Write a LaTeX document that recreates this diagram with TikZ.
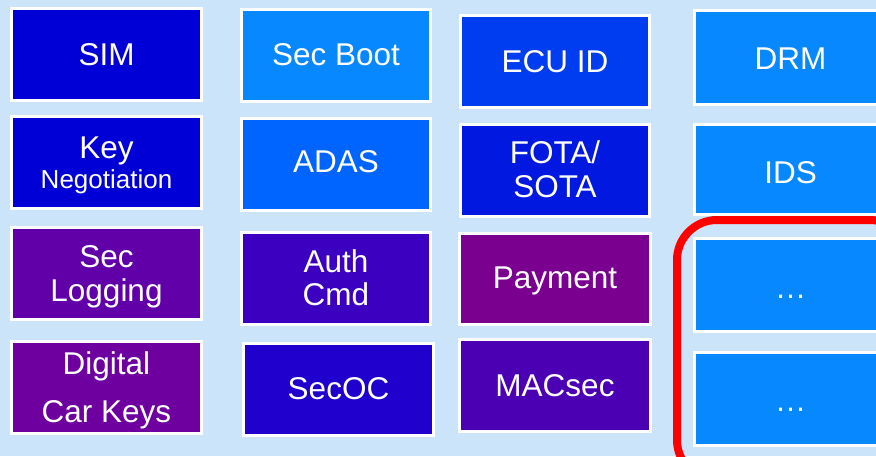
\documentclass[tikz,border=0pt]{standalone}
\usepackage{fontspec}
\setmainfont{Liberation Sans}
\definecolor{bg}{HTML}{CCE4FA}
\definecolor{cSIM}{HTML}{0000D6}
\definecolor{cSecLog}{HTML}{6100A8}
\definecolor{cDCK}{HTML}{6E00A0}
\definecolor{cLight}{HTML}{0888FF}
\definecolor{cADAS}{HTML}{0064FF}
\definecolor{cAuth}{HTML}{3C00C0}
\definecolor{cSecOC}{HTML}{2000CC}
\definecolor{cECU}{HTML}{003CF0}
\definecolor{cFOTA}{HTML}{0018E0}
\definecolor{cPay}{HTML}{7A0090}
\definecolor{cMAC}{HTML}{4C00B4}
\definecolor{hl}{HTML}{FF0000}
\tikzset{
  box/.style={draw=white, line width=3pt, inner sep=0pt, rectangle},
  lbl/.style={text=white, anchor=base, inner sep=0pt, font=\fontsize{31.5}{36}\selectfont},
  lblsmall/.style={text=white, anchor=base, inner sep=0pt, font=\fontsize{26}{30}\selectfont},
}
\begin{document}
\begin{tikzpicture}[x=1pt, y=-1pt]
\useasboundingbox (0,0) rectangle (876,456);
\clip (0,0) rectangle (876,456);
\fill[bg] (0,0) rectangle (876,456);

% column 1
\node[box, fill=cSIM, minimum width=190pt, minimum height=92pt] (sim) at (106.5,54.5) {};
\node[box, fill=cSIM, minimum width=190pt, minimum height=92pt] (keyneg) at (106.5,162.5) {};
\node[box, fill=cSecLog, minimum width=190pt, minimum height=92pt] (seclog) at (106.5,273.5) {};
\node[box, fill=cDCK, minimum width=190pt, minimum height=92pt] (dck) at (106.5,387.5) {};
% column 2
\node[box, fill=cLight, minimum width=189pt, minimum height=92pt] (secboot) at (336,55.5) {};
\node[box, fill=cADAS, minimum width=189pt, minimum height=92pt] (adas) at (336,164.5) {};
\node[box, fill=cAuth, minimum width=189pt, minimum height=92pt] (auth) at (336,278.5) {};
\node[box, fill=cSecOC, minimum width=190pt, minimum height=92pt] (secoc) at (338.5,389.5) {};
% column 3
\node[box, fill=cECU, minimum width=189pt, minimum height=92pt] (ecu) at (555,61.5) {};
\node[box, fill=cFOTA, minimum width=189pt, minimum height=92pt] (fota) at (555,170.5) {};
\node[box, fill=cPay, minimum width=191pt, minimum height=91pt] (pay) at (555,279) {};
\node[box, fill=cMAC, minimum width=191pt, minimum height=92pt] (mac) at (555,385.5) {};
% column 4
\node[box, fill=cLight, minimum width=194pt, minimum height=94pt] (drm) at (791.5,57.5) {};
\node[box, fill=cLight, minimum width=194pt, minimum height=90pt] (ids) at (791.5,169.5) {};
\node[box, fill=cLight, minimum width=194pt, minimum height=93pt] (dotsA) at (791.5,285) {};
\node[box, fill=cLight, minimum width=194pt, minimum height=93pt] (dotsB) at (791.5,399) {};

% labels
\node[lbl] (tSIM) at (106.5,65) {SIM};
\node[lbl] (tKey) at (106.5,158) {Key};
\node[lblsmall] (tNeg) at (106.5,188) {Negotiation};
\node[lbl] (tSec) at (106.5,267) {Sec};
\node[lbl] (tLog) at (106.5,301) {Logging};
\node[lbl] (tDig) at (106.5,374) {Digital};
\node[lbl] (tCar) at (106.5,422) {Car Keys};

\node[lbl] (tBoot) at (336,65) {Sec Boot};
\node[lbl] (tADAS) at (336,172) {ADAS};
\node[lbl] (tAuth) at (336,272) {Auth};
\node[lbl] (tCmd) at (336,305) {Cmd};
\node[lbl] (tSecOC) at (338.5,399) {SecOC};

\node[lbl] (tECU) at (555,72) {ECU ID};
\node[lbl] (tFOTA) at (555,163) {FOTA/};
\node[lbl] (tSOTA) at (555,197) {SOTA};
\node[lbl] (tPay) at (555,288) {Payment};
\node[lbl] (tMAC) at (555,396) {MACsec};

\node[lbl] (tDRM) at (790.5,69) {DRM};
\node[lbl] (tIDS) at (790.5,183) {IDS};
\node[lbl] (tDotsA) at (790.5,298) {…};
\node[lbl] (tDotsB) at (790.5,411) {…};

% highlight
\draw[hl, line width=8pt, rounded corners=40pt] (677,220) rectangle (910,480);
\end{tikzpicture}
\end{document}
